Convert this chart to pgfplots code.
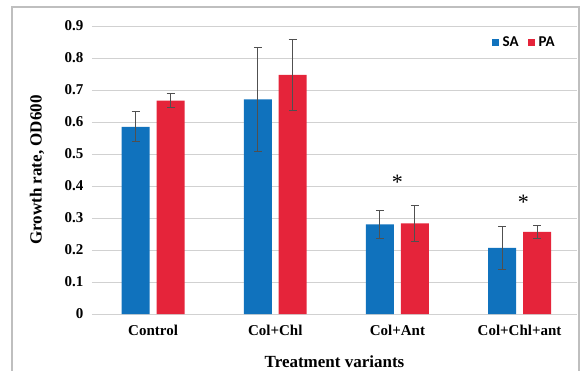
\documentclass[border=0pt]{standalone}
\usepackage{pgfplots}
\pgfplotsset{compat=1.18}
\usepackage{pgfplotstable}
\usepackage{fontspec}
\setmainfont{Liberation Serif}
\newfontfamily\legfont{Carlito}
\definecolor{sablue}{RGB}{16,114,189}
\definecolor{pared}{RGB}{229,36,58}
\definecolor{errgray}{RGB}{80,80,80}
% bars are placed at category index -/+ 0.1432
\pgfplotstableread{
x y e
-0.1432 0.585 0.047
0.8568 0.671 0.163
1.8568 0.280 0.045
2.8568 0.207 0.068
}\sadata
\pgfplotstableread{
x y e
0.1432 0.667 0.021
1.1432 0.747 0.110
2.1432 0.283 0.057
3.1432 0.257 0.021
}\padata
\begin{document}
\begin{tikzpicture}
\path[use as bounding box] (-92bp,-57bp) rectangle (493bp,314bp);
\draw[black!25, line width=1.2bp] (-80bp,-60bp) -- (-80bp,307bp) -- (487bp,307bp) -- (487bp,-60bp);
\begin{axis}[
  scale only axis,
  width=485bp, height=288bp,
  xmin=-0.5, xmax=3.47,
  ymin=0, ymax=0.9,
  axis line style={draw=none},
  major tick length=0pt,
  ymajorgrids,
  grid style={black!18, line width=0.9bp},
  ytick={0,0.1,0.2,0.3,0.4,0.5,0.6,0.7,0.8,0.9},
  yticklabels={0,0.1,0.2,0.3,0.4,0.5,0.6,0.7,0.8,0.9},
  xtick={0,1,2,3},
  xticklabels={Control,Col+Chl,Col+Ant,Col+Chl+ant},
  ticklabel style={font=\fontsize{15bp}{18bp}\selectfont\bfseries},
  yticklabel style={xshift=-5bp},
  xticklabel style={yshift=-8bp},
  ylabel={Growth rate, OD600},
  xlabel={Treatment variants},
  every axis y label/.style={at={(axis description cs:-0.1134,0.5)}, rotate=90, anchor=center, font=\fontsize{17bp}{20bp}\selectfont\bfseries},
  every axis x label/.style={at={(axis description cs:0.5,-0.1667)}, anchor=center, font=\fontsize{17bp}{20bp}\selectfont\bfseries},
  legend columns=2,
  legend style={at={(axis description cs:0.9546,0.944)}, anchor=east, draw=none, fill=none, inner sep=0pt,
    font=\legfont\bfseries\fontsize{15bp}{17bp}\selectfont,
    nodes={inner sep=0pt},
    /tikz/every odd column/.append style={column sep=4bp},
    /tikz/every even column/.append style={column sep=9bp}},
]
\addplot[ybar, bar width=28bp, bar shift=0pt, fill=sablue, draw=none,
  legend image code/.code={\fill[sablue] (0bp,-3.5bp) rectangle (7bp,3.5bp);},
  error bars/.cd, y dir=both, y explicit,
  error bar style={line width=1bp, errgray},
  error mark options={rotate=90, mark size=4bp, line width=1bp, errgray}]
  table[x=x, y=y, y error=e] {\sadata};
\addplot[ybar, bar width=28bp, bar shift=0pt, fill=pared, draw=none,
  legend image code/.code={\fill[pared] (0bp,-3.5bp) rectangle (7bp,3.5bp);},
  error bars/.cd, y dir=both, y explicit,
  error bar style={line width=1bp, errgray},
  error mark options={rotate=90, mark size=4bp, line width=1bp, errgray}]
  table[x=x, y=y, y error=e] {\padata};
\legend{SA,PA}
\node[anchor=base, inner sep=0pt, font=\fontsize{22bp}{22bp}\selectfont] at (axis cs:2,0.39) {*};
\node[anchor=base, inner sep=0pt, font=\fontsize{22bp}{22bp}\selectfont] at (axis cs:3.03,0.325) {*};
\end{axis}
\end{tikzpicture}
\end{document}
